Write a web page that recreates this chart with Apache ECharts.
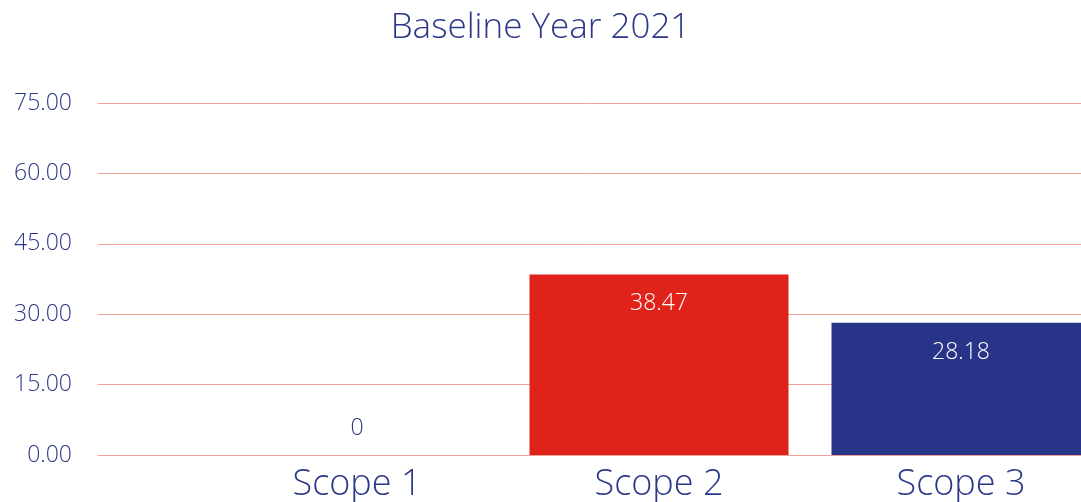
<!DOCTYPE html>
<html>
<head>
<meta charset="utf-8">
<script src="https://cdn.jsdelivr.net/npm/echarts@6/dist/echarts.min.js"></script>
<style>
  html, body { margin: 0; padding: 0; background: #fff; }
  #myChart { width: 1081px; height: 502px; }
</style>
</head>
<body>
<div id="myChart"></div>
<script>
var categories = ['Scope 1', 'Scope 2', 'Scope 3'];
var values = [0, 38.47, 28.18];
var barColors = ['#e0231a', '#e0231a', '#283487'];

var navy = '#2b3788';
var font = '"Open Sans", sans-serif';

var myChart = echarts.init(document.getElementById('myChart'));
myChart.setOption({
  title: {
    text: 'Baseline Year 2021',
    left: 'center',
    top: 6,
    textStyle: { color: navy, fontSize: 35, fontWeight: 300, fontFamily: font }
  },
  // grid 0 carries the y labels and gridlines, grid 1 the bars (runs past the right edge)
  grid: [
    { left: 98, right: 0, top: 103, bottom: 47, outerBoundsMode: 'none' },
    { left: 206, right: -31, top: 103, bottom: 47, outerBoundsMode: 'none' }
  ],
  xAxis: [
    { gridIndex: 0, type: 'value', show: false, min: 0, max: 1 },
    {
      gridIndex: 1,
      type: 'category',
      data: categories,
      axisLine: { show: false },
      axisTick: { show: false },
      axisLabel: { color: navy, fontSize: 36, fontWeight: 300, fontFamily: font, margin: 12 }
    }
  ],
  yAxis: [
    {
      gridIndex: 0,
      type: 'value',
      min: 0, max: 75, interval: 15,
      axisLine: { show: false },
      axisTick: { show: false },
      splitLine: { lineStyle: { color: '#f3a097', width: 1 } },
      axisLabel: {
        color: navy, fontSize: 23, fontWeight: 300, fontFamily: font, margin: 26,
        formatter: function (v) { return v.toFixed(2); }
      }
    },
    { gridIndex: 1, type: 'value', min: 0, max: 75, interval: 15, show: false, splitLine: { show: false } }
  ],
  series: [{
    type: 'bar',
    xAxisIndex: 1,
    yAxisIndex: 1,
    barWidth: 259,
    data: values.map(function (v, i) {
      var item = { value: v, itemStyle: { color: barColors[i] } };
      if (v === 0) {
        item.label = { position: 'top', distance: 15, color: navy };
      }
      return item;
    }),
    label: {
      show: true,
      position: 'insideTop',
      distance: 18,
      color: '#fff',
      fontSize: 23,
      fontWeight: 300,
      fontFamily: font
    }
  }]
});
</script>
</body>
</html>
